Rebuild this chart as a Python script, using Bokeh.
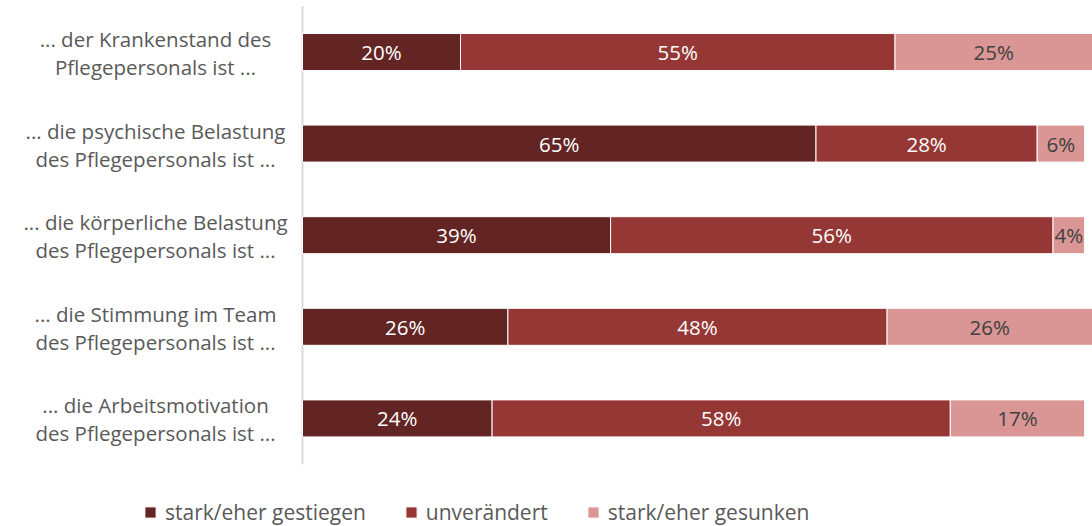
from bokeh.plotting import figure
from bokeh.models import (Range1d, ColumnDataSource, LabelSet, Legend,
                          LegendItem)
from bokeh.core.properties import value
from bokeh.embed import file_html
from bokeh.resources import INLINE

categories = [
    "... der Krankenstand des\nPflegepersonals ist ...",
    "... die psychische Belastung\ndes Pflegepersonals ist ...",
    "... die körperliche Belastung\ndes Pflegepersonals ist ...",
    "... die Stimmung im Team\ndes Pflegepersonals ist ...",
    "... die Arbeitsmotivation\ndes Pflegepersonals ist ...",
]
series_names = ["stark/eher gestiegen", "unverändert", "stark/eher gesunken"]
gestiegen = [20, 65, 39, 26, 24]
unveraendert = [55, 28, 56, 48, 58]
gesunken = [25, 6, 4, 26, 17]

colors = ["#632523", "#953735", "#D99694"]
label_colors = ["#FFFFFF", "#FFFFFF", "#404040"]
FONT = "Open Sans"

n = len(categories)
ypos = [n - i for i in range(n)]  # first category on top
zeros = [0] * n
line1 = [c.split("\n")[0] for c in categories]
line2 = [c.split("\n")[1] for c in categories]

keys = ["g", "u", "s"]
source = ColumnDataSource({"y": ypos, "g": gestiegen, "u": unveraendert,
                           "s": gesunken, "l1": line1, "l2": line2,
                           "x0": zeros})

# the frame covers the whole canvas; the category texts and the legend
# live inside it, left of / below the bars
p = figure(
    y_range=Range1d(-0.18, n + 0.562),
    x_range=Range1d(-38.23, 100),
    width=1092, height=526,
    output_backend="svg", toolbar_location=None,
    min_border_left=0, min_border_right=0, min_border_top=0,
    min_border_bottom=0,
)

# category axis line
p.segment(x0=[0], y0=[0.5], x1=[0], y1=[n + 0.5], line_color="#D9D9D9",
          line_width=2)

renderers = p.hbar_stack(keys, y="y", height=0.404, color=colors,
                         line_color="white", line_width=1, source=source)

# category labels (two centred lines each)
for field, dy in (("l1", 5), ("l2", -23)):
    p.add_layout(LabelSet(x="x0", y="y", text=field, source=source,
                          x_offset=-147, y_offset=dy, text_align="center",
                          text_baseline="alphabetic", text_font=value(FONT),
                          text_font_size="20.5px", text_color="#595959"))

series = [gestiegen, unveraendert, gesunken]
cum = [0] * n
for i, vals in enumerate(series):
    mids = [c + v / 2 for c, v in zip(cum, vals)]
    cum = [c + v for c, v in zip(cum, vals)]
    src = ColumnDataSource(dict(x=mids, y=ypos, t=[f"{v}%" for v in vals]))
    p.add_layout(LabelSet(x="x", y="y", text="t", source=src,
                          text_align="center", text_baseline="middle",
                          text_font=value(FONT), text_font_size="20.5px",
                          text_color=label_colors[i]))

p.xaxis.visible = False
p.yaxis.visible = False
p.xgrid.grid_line_color = None
p.ygrid.grid_line_color = None
p.outline_line_color = None

legend = Legend(
    items=[LegendItem(label=nm, renderers=[r]) for nm, r in zip(series_names, renderers)],
    orientation="horizontal", location=(143, 0),
    label_text_font=FONT, label_text_font_size="21px",
    label_text_color="#595959", glyph_width=14, glyph_height=14,
    label_standoff=8, spacing=38, padding=0, margin=0,
    border_line_color=None, background_fill_alpha=0,
)
p.add_layout(legend)

open("out.html", "w").write(file_html(p, INLINE))
